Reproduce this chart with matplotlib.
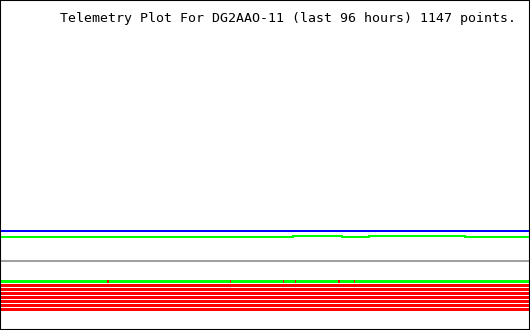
import matplotlib
matplotlib.use("Agg")
import matplotlib.pyplot as plt

# time axis: last 96 hours
hours_span = 96
n_points = 1147
station = "DG2AAO-11"

# analog channels (raw telemetry units), as step series: (start hour, value)
a1_hours = [0, 96]
a1_vals = [45, 45]

a2_hours = [0, 53.1, 62.0, 66.9, 84.4, 96]
a2_vals = [39, 40, 39, 40, 39, 39]

a3_hours = [0, 96]
a3_vals = [15, 15]

# digital bits: base state of each bit (1 = on/green, 0 = off/red)
bit_states = [1, 0, 0, 0, 0, 0, 0, 0]
# hours where bit 1 dropped to 0
bit1_off_hours = [19.45, 41.7, 51.3, 53.5, 61.4, 64.3]

W, H = 530, 330
fig = plt.figure(figsize=(W / 100, H / 100), dpi=100)
fig.patch.set_facecolor("white")

# analog area: value 0 at pixel row 276, 1 px per unit
ax = fig.add_axes([1 / W, 1 - 276 / H, 528 / W, 255 / H])
ax.set_xlim(0, hours_span)
ax.set_ylim(0, 255)
ax.axis("off")
lw = 2 * 72 / 100
ax.step(a1_hours, a1_vals, where="post", color="#0000ff", lw=lw, antialiased=False)
ax.step(a2_hours, a2_vals, where="post", color="#00ff00", lw=lw, antialiased=False)
ax.step(a3_hours, a3_vals, where="post", color="#a0a0a0", lw=lw, antialiased=False)

# bit area: 8 rows of 4 px starting at pixel row 280
bx = fig.add_axes([1 / W, 1 - 312 / H, 528 / W, 32 / H])
bx.set_xlim(0, hours_span)
bx.set_ylim(8, 0)
bx.axis("off")
for i, st in enumerate(bit_states):
    col = "#00ff00" if st else "#ff0000"
    bx.barh(i, hours_span, left=0, height=0.75, align="edge",
            color=col, antialiased=False, linewidth=0)
for h in bit1_off_hours:
    bx.barh(0, 0.25, left=h - 0.1, height=0.75, align="edge",
            color="#ff0000", antialiased=False, linewidth=0)

# frame
fr = fig.add_axes([0, 0, 1, 1])
fr.set_xlim(0, W)
fr.set_ylim(H, 0)
fr.set_xticks([])
fr.set_yticks([])
fr.patch.set_alpha(0)
for s in fr.spines.values():
    s.set_linewidth(1.5)
    s.set_color("black")

fig.text(60 / W, 1 - 22 / H,
         f"Telemetry Plot For {station} (last {hours_span} hours) {n_points} points.",
         family="DejaVu Sans Mono", fontsize=9.57, va="baseline", ha="left")

fig.savefig("out.png", dpi=100, facecolor="white")
